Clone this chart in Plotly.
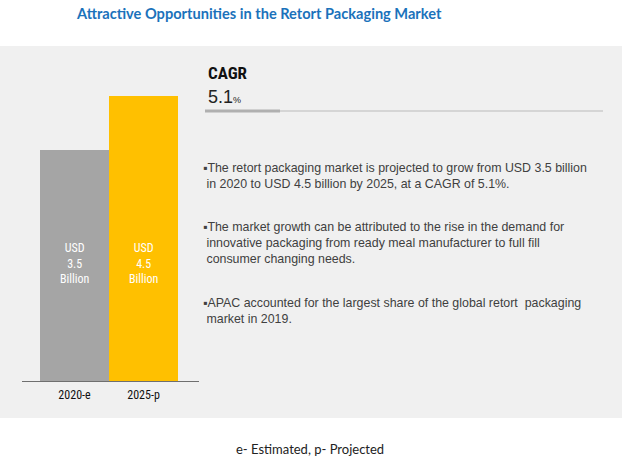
import plotly.graph_objects as go

W, H = 627, 463

categories = ["2020-e", "2025-p"]
values = [3.5, 4.5]
bar_colors = ["#a5a5a5", "#ffc000"]
value_unit = "USD"
value_scale = "Billion"
cagr_value = "5.1"
title_text = "Attractive Opportunities in the Retort Packaging Market"
bullets = [
    "The retort packaging market is projected to grow from USD 3.5 billion<br>in 2020 to USD 4.5 billion by 2025, at a CAGR of 5.1%.",
    "The market growth can be attributed to the rise in the demand for<br>innovative packaging from ready meal manufacturer to full fill<br>consumer changing needs.",
    "APAC accounted for the largest share of the global retort  packaging<br>market in 2019.",
]
footnote = "e- Estimated, p- Projected"

NARROW = "Liberation Sans Narrow, Roboto Condensed, Liberation Sans"
AXIS_FLOOR = -0.772  # truncated value axis, as drawn in the original


def px(x):
    return x / W


def py(y):
    return 1 - y / H


fig = go.Figure()
fig.add_trace(go.Bar(
    x=[0, 1], y=[v - AXIS_FLOOR for v in values], base=AXIS_FLOOR,
    marker=dict(color=bar_colors, line=dict(width=0)),
    width=1, hoverinfo="skip",
))

annotations = []
# bar value labels
for i, v in enumerate(values):
    annotations.append(dict(
        x=i, y=1.41, xref="x", yref="y",
        text=f"{value_unit}<br>{v}<br>{value_scale}",
        showarrow=False, font=dict(family=NARROW, size=12, color="white"),
        align="center", xanchor="center", yanchor="middle",
    ))

annotations += [
    dict(x=px(259), y=py(14), xref="paper", yref="paper", text=f"<b>{title_text}</b>", showarrow=False,
         font=dict(family="Lato, Open Sans, sans-serif", size=14.6, color="#1b72bb"),
         xanchor="center", yanchor="middle"),
    dict(x=px(206), y=py(73), xref="paper", yref="paper", text="<b>CAGR</b>", showarrow=False,
         font=dict(family=NARROW, size=17, color="#111111"),
         xanchor="left", yanchor="middle"),
    dict(x=px(206), y=py(97), xref="paper", yref="paper",
         text=f"{cagr_value}<span style='font-size:9px'>%</span>", showarrow=False,
         font=dict(family="Liberation Sans", size=18, color="#222222"), xanchor="left", yanchor="middle"),
    dict(x=px(310), y=py(449), xref="paper", yref="paper", text=footnote, showarrow=False,
         font=dict(family="Lato, Open Sans, sans-serif", size=13, color="#222222"),
         xanchor="center", yanchor="middle"),
]

bullet_tops = [159, 218, 294]
for b, t in zip(bullets, bullet_tops):
    annotations.append(dict(
        x=px(201), y=py(t), xref="paper", yref="paper",
        text="\u25aa" + b.replace("<br>", "<br> "), showarrow=False, align="left",
        font=dict(family="Liberation Sans", size=12.4, color="#404040"),
        xanchor="left", yanchor="top",
    ))

shapes = [
    dict(type="rect", xref="paper", yref="paper", x0=px(0), x1=px(622), y0=py(418), y1=py(46),
         fillcolor="#f0f0f0", line=dict(width=0), layer="below"),
    dict(type="line", xref="paper", yref="paper", x0=px(205), x1=px(603), y0=py(111), y1=py(111),
         line=dict(color="#cccccc", width=1.3)),
    dict(type="line", xref="paper", yref="paper", x0=px(205), x1=px(280), y0=py(111), y1=py(111),
         line=dict(color="#b0b0b0", width=3)),
]

fig.update_layout(
    width=W, height=H, margin=dict(l=0, r=0, t=0, b=0),
    paper_bgcolor="white", plot_bgcolor="rgba(0,0,0,0)",
    showlegend=False, bargap=0,
    shapes=shapes, annotations=annotations,
    xaxis=dict(domain=[px(22), px(199)], range=[-0.761, 1.804], tickvals=[0, 1], ticktext=categories,
               showgrid=False, zeroline=False, showline=True, linecolor="#6f6f6f", linewidth=1,
               ticks="outside", ticklen=3, tickcolor="rgba(0,0,0,0)",
               tickfont=dict(family=NARROW, size=12, color="#111111"),
               fixedrange=True),
    yaxis=dict(domain=[py(381), py(60)], range=[AXIS_FLOOR, 5.172], visible=False, showgrid=False,
               zeroline=False, fixedrange=True),
)

fig.write_html("out.html", config={"displayModeBar": False},
               post_script="document.body.style.margin='0';document.body.style.overflow='hidden';")
